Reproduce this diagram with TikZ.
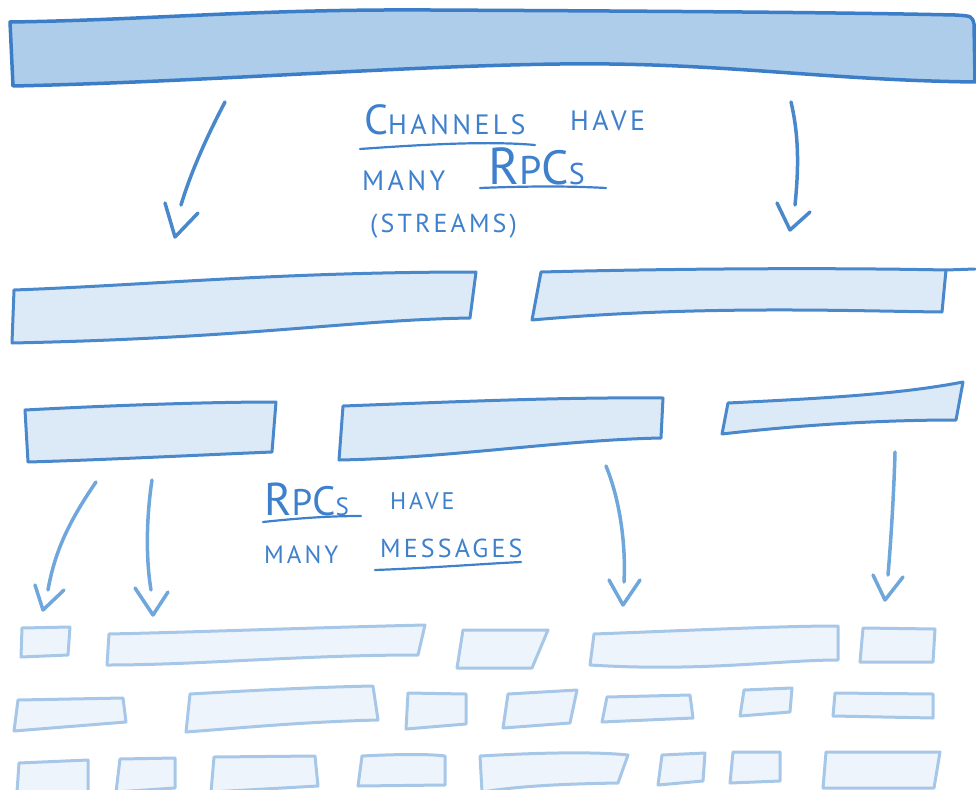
\documentclass[tikz,border=0pt]{standalone}
\usepackage{fontspec}
\setmainfont{PT Sans}
\definecolor{ink}{HTML}{3B7DC6}
\definecolor{inkmid}{HTML}{4A88CC}
\definecolor{inkpale}{HTML}{A6C7E7}
\definecolor{arrpale}{HTML}{6FA6DB}
\definecolor{filltop}{HTML}{AECDEA}
\definecolor{fillmid}{HTML}{DCE9F6}
\definecolor{filllow}{HTML}{EEF4FB}
\definecolor{txt}{HTML}{3F80CC}
\newcommand\hw[2]{{\fontsize{#1}{#1}\selectfont\addfontfeature{LetterSpace=12}#2}}
\begin{document}
\begin{tikzpicture}[x=1pt,y=-1pt,line join=round,line cap=round,
  topbox/.style={draw=ink,fill=filltop,line width=3.5pt},
  midbox/.style={draw=inkmid,fill=fillmid,line width=3pt},
  midline/.style={draw=inkmid,line width=3pt},
  lowbox/.style={draw=inkpale,fill=filllow,line width=3pt},
  bigarrow/.style={draw=inkmid,line width=3.5pt},
  smallarrow/.style={draw=arrpale,line width=3.5pt},
  hand/.style={text=txt,anchor=base west,inner sep=0pt},
  uline/.style={draw=txt,line width=2.2pt}]
\useasboundingbox (0,0) rectangle (976,789);
% top channel
\draw[topbox] (10,22) .. controls (150,20) and (250,9) .. (430,10)
  .. controls (620,11) and (820,12) .. (955,15) .. controls (972,16) .. (974,24)
  -- (975,82) .. controls (820,80) and (720,62) .. (560,64)
  .. controls (400,66) and (200,82) .. (13,86) -- cycle;
% big arrows
\draw[bigarrow] (225,102) .. controls (205,140) and (190,175) .. (181,205);
\draw[bigarrow] (165,203) -- (175,237) -- (198,213);
\draw[bigarrow] (791,102) .. controls (800,140) and (798,175) .. (795,205);
\draw[bigarrow] (777,203) -- (790,230) -- (810,212);
% text 1
\node[hand] (t1) at (364,134) {\hw{42}{C}\hw{28}{HANNELS}};
\node[hand] (t2) at (570,130) {\hw{28}{HAVE}};
\node[hand] (t3) at (362,190) {\hw{28}{MANY}};
\node[hand] (t4) at (488,184) {\hw{52}{R}\hw{40}{P}\hw{48}{C}\hw{30}{S}};
\node[hand] (t5) at (370,232) {\hw{26}{(STREAMS)}};
\draw[uline] (360,149) .. controls (430,144) and (490,141) .. (535,145);
\draw[uline] (480,188) .. controls (530,186) and (570,186) .. (606,188);
% RPC rows
\draw[midbox] (14,290) .. controls (150,285) and (280,272) .. (476,272)
  -- (470,318) .. controls (350,320) and (250,338) .. (12,343) -- cycle;
\draw[midbox] (541,272) .. controls (700,268) and (850,268) .. (946,270)
  -- (942,312) .. controls (850,311) and (700,305) .. (532,320) -- cycle;
\draw[midline] (946,270) -- (975,269);
\draw[midbox] (25,410) .. controls (100,406) and (200,402) .. (276,402)
  -- (272,452) .. controls (200,455) and (100,460) .. (28,462) -- cycle;
\draw[midbox] (343,406) .. controls (450,402) and (560,397) .. (663,398)
  -- (661,438) .. controls (560,440) and (450,458) .. (339,460) -- cycle;
\draw[midbox] (728,403) .. controls (830,398) and (900,394) .. (963,382)
  -- (956,420) .. controls (880,420) and (800,425) .. (722,434) -- cycle;
% small arrows
\draw[smallarrow] (96,482) .. controls (70,520) and (55,550) .. (48,590);
\draw[smallarrow] (35,585) -- (43,610) -- (64,590);
\draw[smallarrow] (152,480) .. controls (146,520) and (146,560) .. (151,590);
\draw[smallarrow] (135,588) -- (153,615) -- (168,592);
\draw[smallarrow] (606,466) .. controls (620,500) and (626,545) .. (624,582);
\draw[smallarrow] (609,580) -- (623,605) -- (640,580);
\draw[smallarrow] (895,452) .. controls (894,490) and (891,540) .. (888,575);
\draw[smallarrow] (873,575) -- (885,600) -- (903,577);
% text 2
\node[hand] (t6) at (264,515) {\hw{46}{R}\hw{37}{P}\hw{41}{C}\hw{25}{S}};
\node[hand] (t7) at (390,509) {\hw{24}{HAVE}};
\node[hand] (t8) at (264,563) {\hw{25}{MANY}};
\node[hand] (t9) at (380,557) {\hw{26}{MESSAGES}};
\draw[uline] (263,522) .. controls (300,518) and (330,516) .. (361,516);
\draw[uline] (375,570) .. controls (430,568) and (480,564) .. (521,562);
% messages row 1
\draw[lowbox] (22,628) -- (70,627) -- (68,655) -- (21,657) -- cycle;
\draw[lowbox] (109,634) .. controls (200,632) and (300,628) .. (425,625) -- (418,655) .. controls (300,655) and (200,665) .. (107,665) -- cycle;
\draw[lowbox] (463,630) -- (548,630) -- (532,668) -- (457,668) -- cycle;
\draw[lowbox] (594,634) .. controls (700,630) and (780,626) .. (838,626) -- (838,660) .. controls (780,660) and (700,672) .. (590,665) -- cycle;
\draw[lowbox] (863,628) -- (935,629) -- (933,662) -- (860,662) -- cycle;
% messages row 2
\draw[lowbox] (18,700) -- (123,698) -- (126,722) -- (14,731) -- cycle;
\draw[lowbox] (190,694) .. controls (260,690) and (320,687) .. (373,686) -- (378,720) .. controls (300,722) and (240,728) .. (186,732) -- cycle;
\draw[lowbox] (408,693) -- (466,694) -- (466,724) -- (406,729) -- cycle;
\draw[lowbox] (508,694) -- (577,690) -- (570,723) -- (503,728) -- cycle;
\draw[lowbox] (607,697) -- (690,695) -- (693,718) -- (602,722) -- cycle;
\draw[lowbox] (744,690) -- (792,688) -- (790,712) -- (740,716) -- cycle;
\draw[lowbox] (835,693) -- (933,694) -- (933,718) -- (833,716) -- cycle;
% messages row 3
\draw[lowbox] (19,763) -- (88,760) -- (88,792) -- (17,792) -- cycle;
\draw[lowbox] (120,759) -- (175,758) -- (175,788) -- (116,792) -- cycle;
\draw[lowbox] (214,757) -- (315,756) -- (318,786) -- (211,792) -- cycle;
\draw[lowbox] (362,756) .. controls (400,754) and (430,754) .. (445,756) -- (445,785) -- (358,786) -- cycle;
\draw[lowbox] (480,756) .. controls (550,752) and (600,752) .. (628,755) -- (618,783) .. controls (560,784) and (520,786) .. (482,792) -- cycle;
\draw[lowbox] (662,755) -- (705,753) -- (703,781) -- (658,785) -- cycle;
\draw[lowbox] (733,752) -- (780,752) -- (780,781) -- (730,783) -- cycle;
\draw[lowbox] (826,752) -- (940,752) -- (934,788) -- (823,788) -- cycle;
\end{tikzpicture}
\end{document}
